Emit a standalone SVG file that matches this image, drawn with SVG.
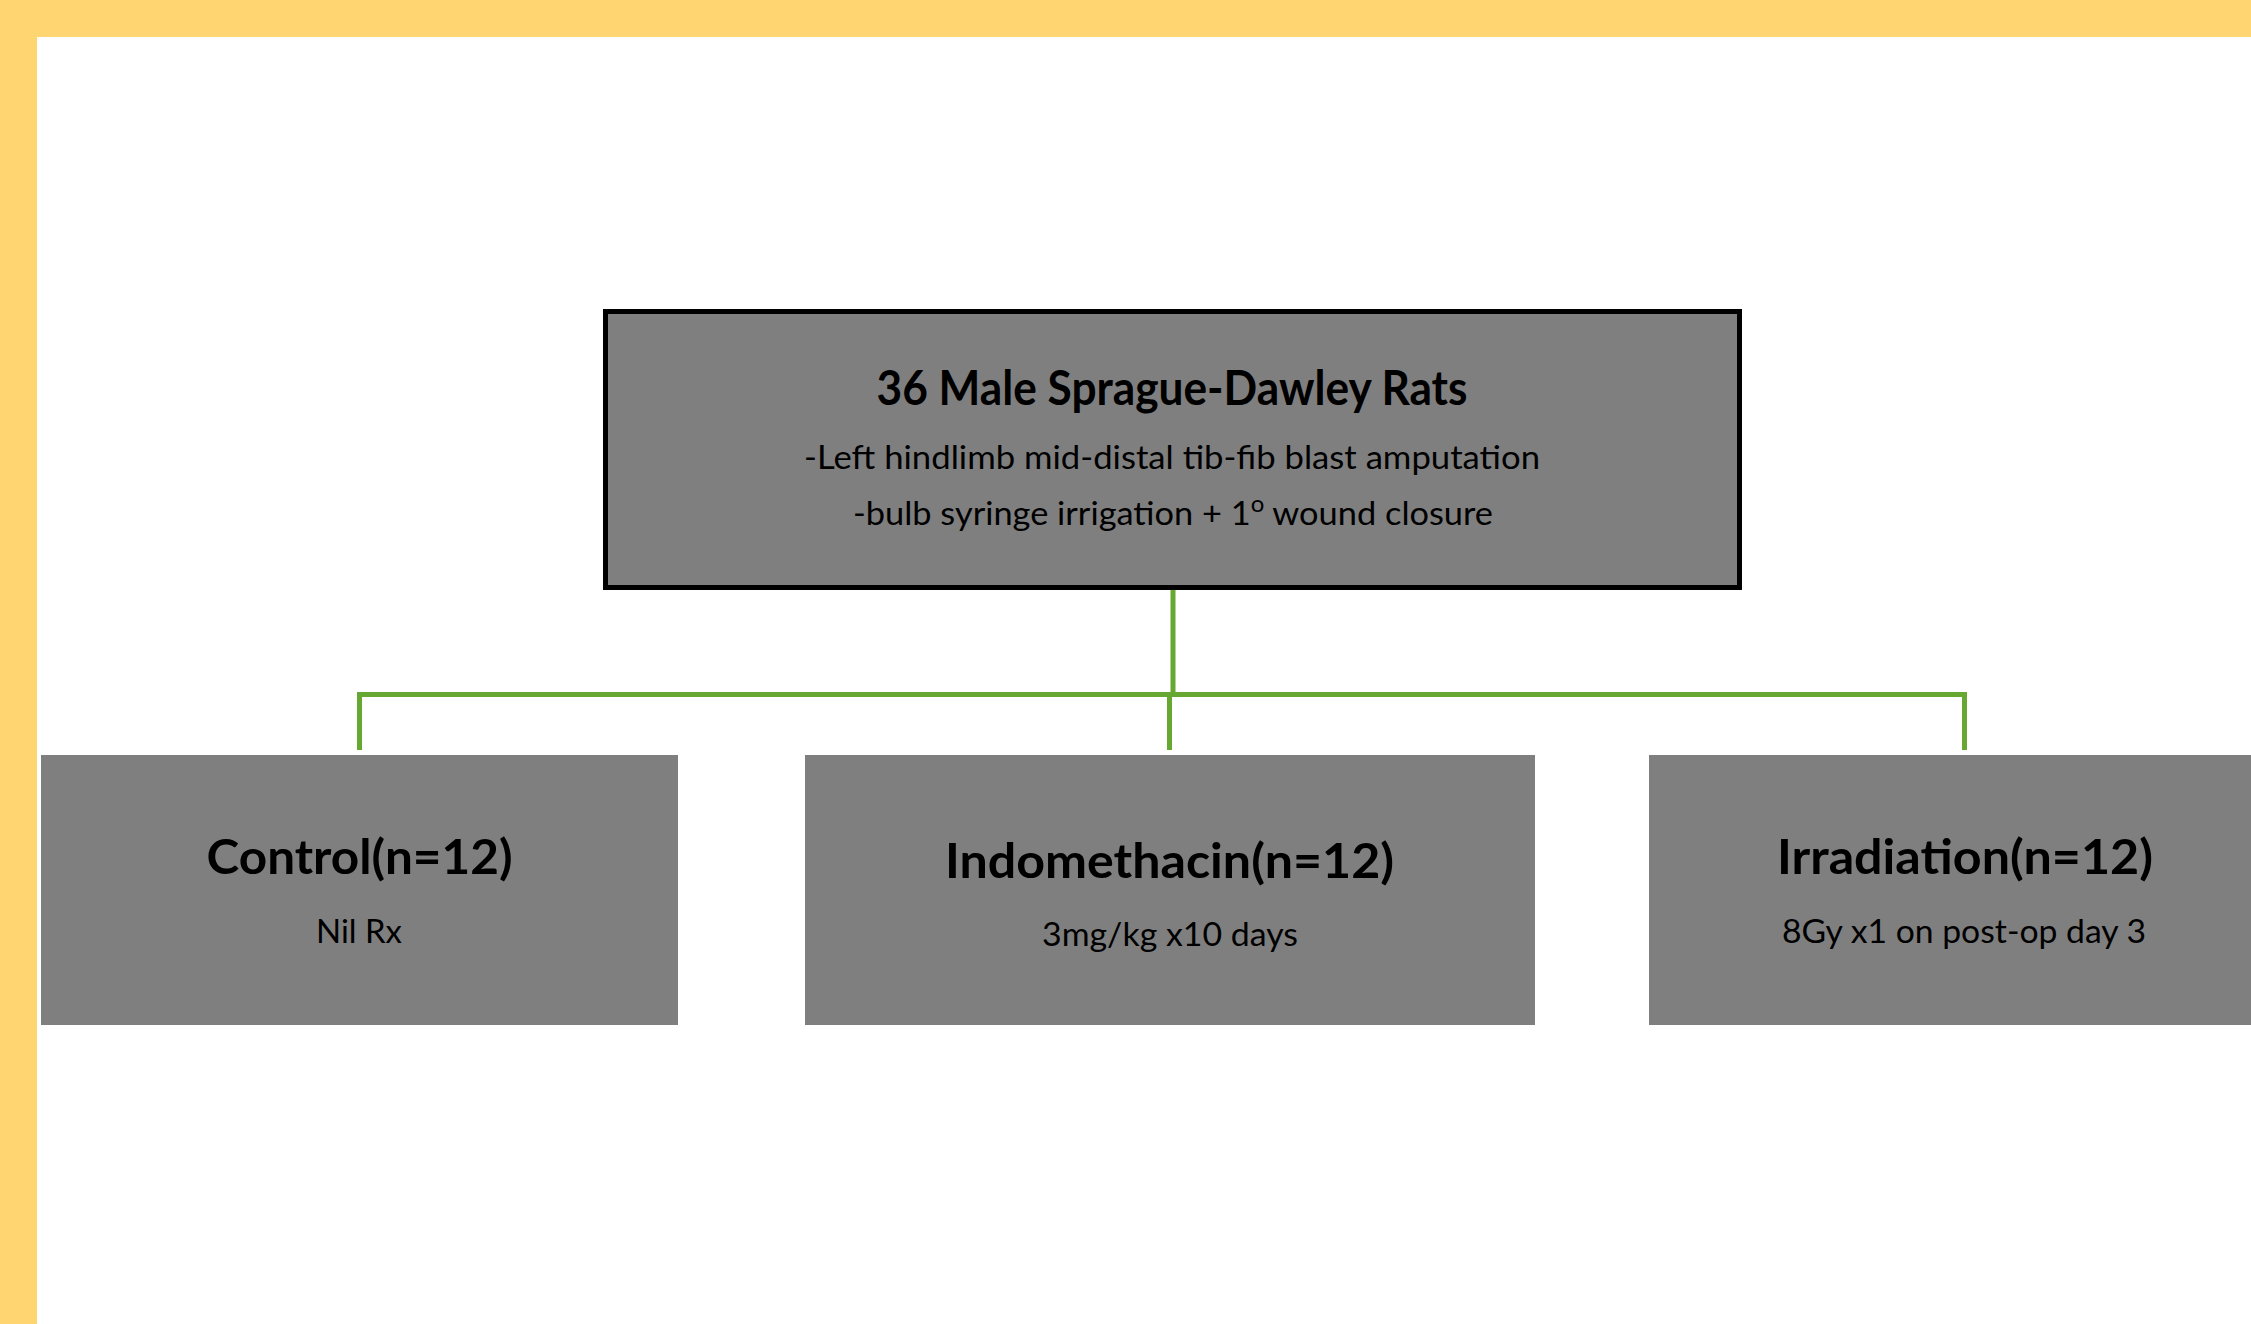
<svg xmlns="http://www.w3.org/2000/svg" width="2251" height="1324" viewBox="0 0 2251 1324">
<style>
.box{fill:#7F7F7F}
.t{font-family:Lato,"Open Sans","Liberation Sans",sans-serif;fill:#000;text-anchor:middle}
.b{font-weight:bold;font-size:48px}
.r{font-size:33px}
.c{stroke:#66A832;stroke-width:5;fill:none}
</style>
<rect x="0" y="0" width="2251" height="1324" fill="#FFFFFF"/>
<rect x="0" y="0" width="2251" height="37" fill="#FFD572"/>
<rect x="0" y="0" width="37" height="1324" fill="#FFD572"/>
<g id="connectors">
<path class="c" d="M1173 590 V694.5"/>
<path class="c" d="M359.5 750 V694.5 H1964.5 V750"/>
<path class="c" d="M1169.5 694.5 V750"/>
</g>
<g id="root">
<rect class="box" x="605.5" y="311.5" width="1134" height="276" stroke="#000" stroke-width="5"/>
<text class="t b" x="1172" y="405" textLength="591" lengthAdjust="spacingAndGlyphs">36 Male Sprague-Dawley Rats</text>
<text class="t r" x="1172" y="469" textLength="736" lengthAdjust="spacingAndGlyphs">-Left hindlimb mid-distal tib-fib blast amputation</text>
<text class="t r" x="1173" y="525" textLength="640" lengthAdjust="spacingAndGlyphs">-bulb syringe irrigation + 1<tspan font-size="23" dy="-13">o</tspan><tspan dy="13"> wound closure</tspan></text>
</g>
<g id="control">
<rect x="37" y="752" width="4" height="276" fill="#FFFFFF"/>
<rect class="box" x="41" y="755" width="637" height="270"/>
<text class="t b" x="359.5" y="874" textLength="306" lengthAdjust="spacingAndGlyphs">Control(n=12)</text>
<text class="t r" x="359" y="943" textLength="86" lengthAdjust="spacingAndGlyphs">Nil Rx</text>
</g>
<g id="indomethacin">
<rect class="box" x="805" y="755" width="730" height="270"/>
<text class="t b" x="1169.5" y="878" textLength="449" lengthAdjust="spacingAndGlyphs">Indomethacin(n=12)</text>
<text class="t r" x="1170" y="946" textLength="256" lengthAdjust="spacingAndGlyphs">3mg/kg x10 days</text>
</g>
<g id="irradiation">
<rect class="box" x="1649" y="755" width="602" height="270"/>
<text class="t b" x="1965" y="874" textLength="376" lengthAdjust="spacingAndGlyphs">Irradiation(n=12)</text>
<text class="t r" x="1964" y="943" textLength="364" lengthAdjust="spacingAndGlyphs">8Gy x1 on post-op day 3</text>
</g>
</svg>
